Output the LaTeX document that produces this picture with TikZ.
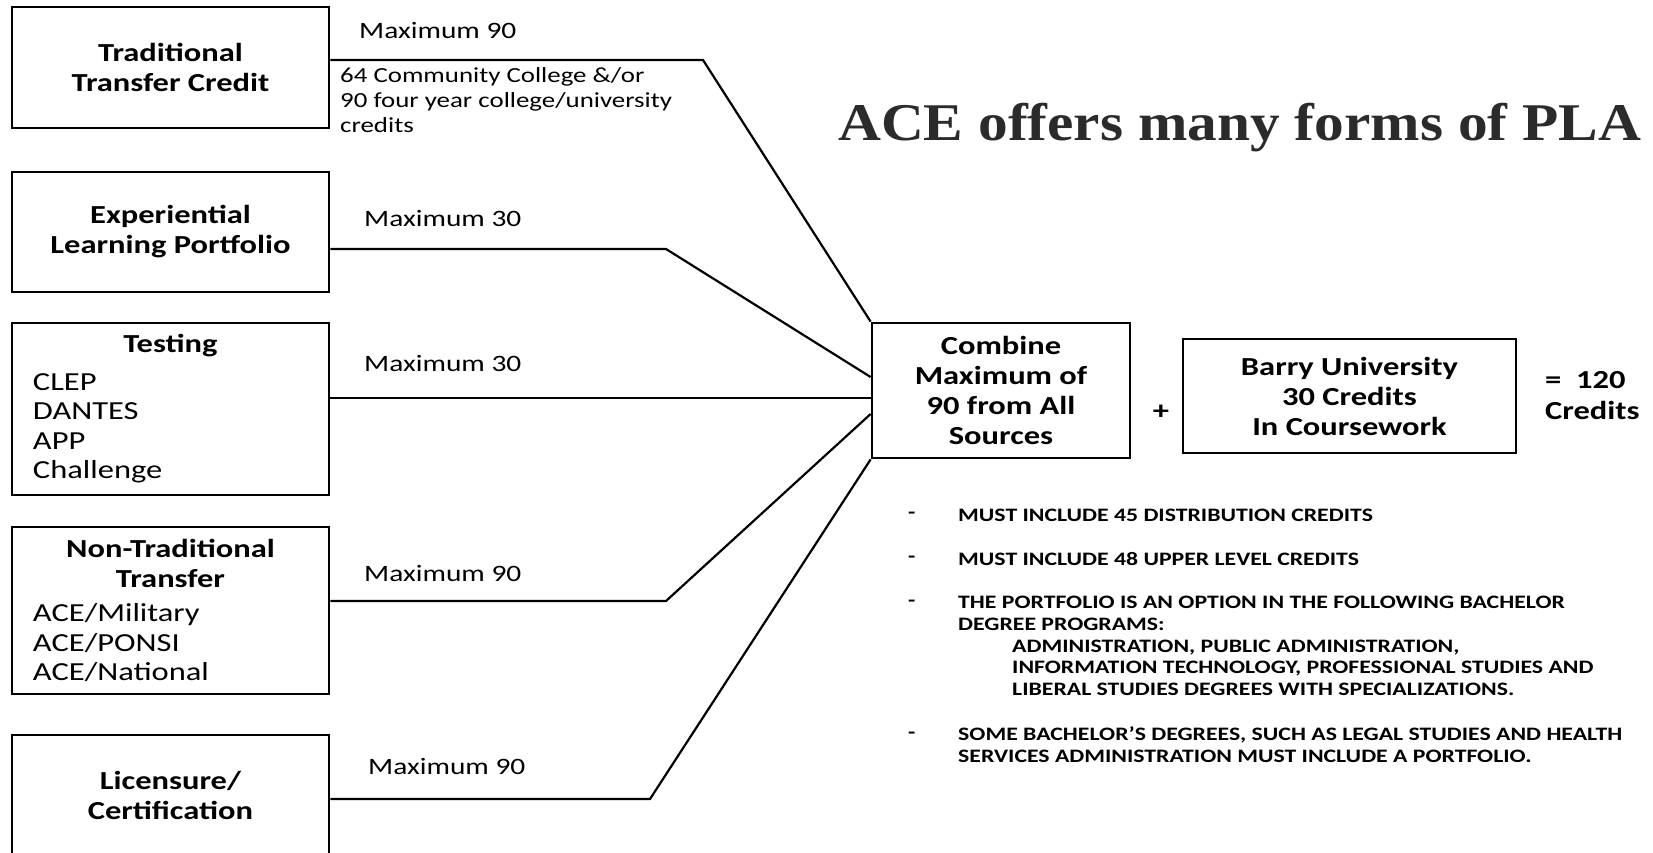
\documentclass[tikz,border=0pt]{standalone}
\usepackage{fontspec}
\setmainfont[FakeStretch=1.25]{Carlito}
\newfontfamily\titlefont[FakeStretch=1.12]{Liberation Serif}
\begin{document}
\begin{tikzpicture}[x=1pt,y=-1pt,line join=miter]
	\definecolor{titlegray}{rgb}{0.17,0.17,0.17}
	\tikzset{srcbox/.style={draw,line width=2.8pt,minimum width=317pt,inner sep=0pt,align=center,
			font=\fontsize{26}{30}\selectfont\bfseries},
		listbox/.style={srcbox,text width=275pt,inner xsep=21pt,align=left,font=\fontsize{26}{29.5}\selectfont},
		maxlbl/.style={anchor=west,inner sep=0pt,font=\fontsize{23.5}{28}\selectfont},
		link/.style={line width=2.2pt},
		rule/.style={anchor=west,inner sep=0pt,align=left,font=\fontsize{19}{21.8}\selectfont\bfseries}}
	\useasboundingbox (0,0) rectangle (1653,852);
	
	\node[srcbox,minimum height=121pt] (trad) at (170.5,67.5) {Traditional\\Transfer Credit};
	\node[srcbox,minimum height=120pt] (port) at (170.5,232) {Experiential\\Learning Portfolio};
	\node[listbox,minimum height=172pt] (test) at (170.5,409)
	{\makebox[\linewidth]{\bfseries Testing}\\[8pt]CLEP\\DANTES\\APP\\Challenge};
	\node[listbox,minimum height=167pt] (ntrad) at (170.5,610.5)
	{\makebox[\linewidth]{\bfseries Non-Traditional}\\\makebox[\linewidth]{\bfseries Transfer}\\[5pt]ACE/Military\\ACE/PONSI\\ACE/National};
	\node[srcbox,minimum height=121pt] (lic) at (170.5,795.5) {Licensure/\\Certification};
	
	\node[srcbox,minimum width=258pt,minimum height=135pt,font=\fontsize{26}{29.7}\selectfont\bfseries] (comb) at (1001,390.5)
	{Combine\\Maximum of\\90 from All\\Sources};
	\node[srcbox,minimum width=333pt,minimum height=114pt] (barry) at (1349.5,396)
	{Barry University\\30 Credits\\In Coursework};
	\node[font=\fontsize{26}{30}\selectfont\bfseries] (plus) at (1161,412) {+};
	\node[anchor=west,inner sep=0pt,align=left,font=\fontsize{26}{31}\selectfont\bfseries] (total) at (1545,396) {=\ \ 120\\Credits};
	
	\node[anchor=base west,inner sep=0pt,text=titlegray,font=\titlefont\fontsize{53}{60}\selectfont\bfseries] (title) at (838,140)
	{ACE offers many forms of PLA};
	
	\coordinate (k1) at (703,60);
	\coordinate (k2) at (666,249);
	\coordinate (k4) at (666,601);
	\coordinate (k5) at (650,799);
	\coordinate (e2) at ([yshift=13.5pt]comb.west);
	\coordinate (e3) at ([yshift=-7.5pt]comb.west);
	\coordinate (e4) at ([yshift=-23.5pt]comb.west);
	\draw[link] (trad.east |- k1)--(k1)--(comb.north west);
	\draw[link] (port.east |- k2)--(k2)--(e2);
	\draw[link] (test.east |- e3)--(e3);
	\draw[link] (ntrad.east |- k4)--(k4)--(e4);
	\draw[link] (lic.east |- k5)--(k5)--(comb.south west);
	
	\node[maxlbl] (m1) at (359,30) {Maximum 90};
	\node[anchor=west,inner sep=0pt,align=left,font=\fontsize{21.5}{25}\selectfont] (cc) at (340,100)
	{64 Community College \&/or\\90 four year college/university\\credits};
	\node[maxlbl] (m2) at (364,218) {Maximum 30};
	\node[maxlbl] (m3) at (364,363) {Maximum 30};
	\node[maxlbl] (m4) at (364,573) {Maximum 90};
	\node[maxlbl] (m5) at (368,766) {Maximum 90};
	
	\foreach \y/\n in {515/1,559/2,603/3,735/4}
	\node[rule] (d\n) at (908,\y) {-};
	\node[rule] (r1) at (958,515) {MUST INCLUDE 45 DISTRIBUTION CREDITS};
	\node[rule] (r2) at (958,559) {MUST INCLUDE 48 UPPER LEVEL CREDITS};
	\node[rule] (r3) at (958,646) {THE PORTFOLIO IS AN OPTION IN THE FOLLOWING BACHELOR\\
		DEGREE PROGRAMS:\\
		\hspace*{54pt}ADMINISTRATION, PUBLIC ADMINISTRATION,\\
		\hspace*{54pt}INFORMATION TECHNOLOGY, PROFESSIONAL STUDIES AND\\
		\hspace*{54pt}LIBERAL STUDIES DEGREES WITH SPECIALIZATIONS.};
	\node[rule] (r4) at (958,745) {SOME BACHELOR’S DEGREES, SUCH AS LEGAL STUDIES AND HEALTH\\
		SERVICES ADMINISTRATION MUST INCLUDE A PORTFOLIO.};
\end{tikzpicture}
\end{document}
